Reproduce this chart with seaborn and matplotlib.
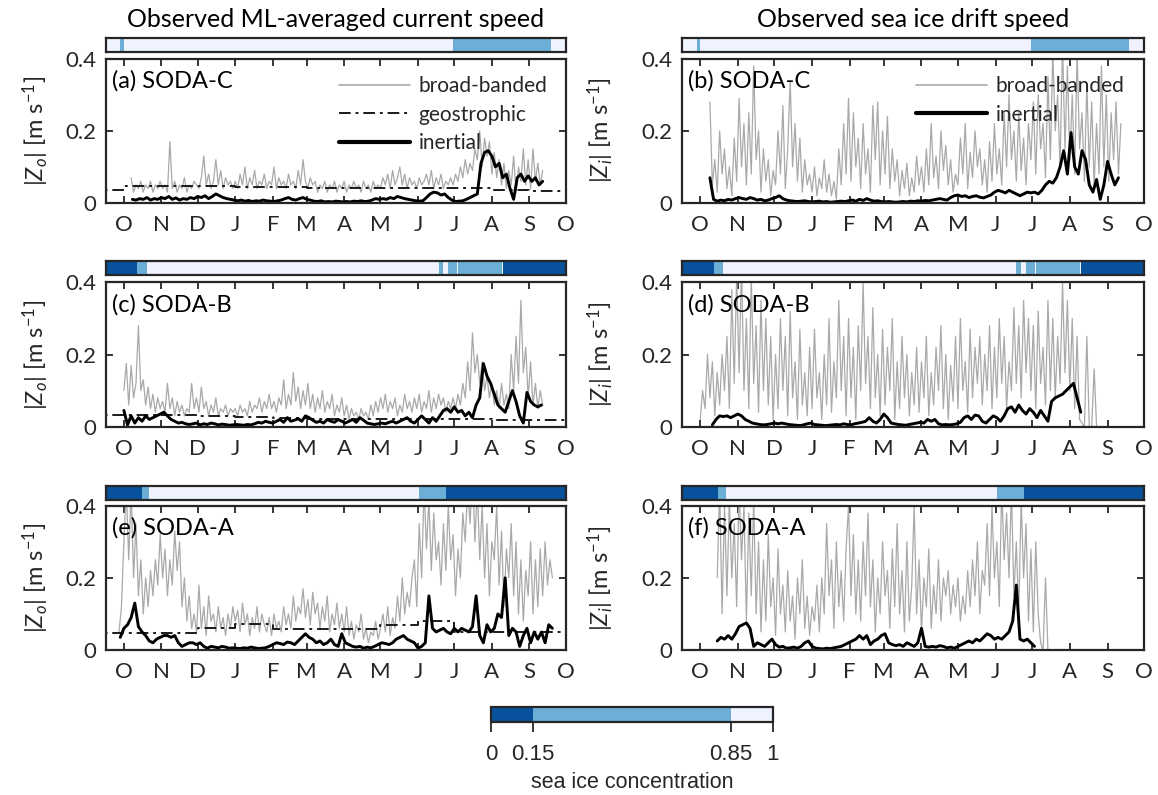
import numpy as np
import pandas as pd
import seaborn as sns
import matplotlib.pyplot as plt
import matplotlib.dates as mdates
from matplotlib.colors import ListedColormap, BoundaryNorm
from matplotlib.cm import ScalarMappable
from matplotlib.lines import Line2D

sns.set_style('ticks')
plt.rcParams['font.family'] = ['Lato', 'DejaVu Sans']
plt.rcParams['mathtext.fontset'] = 'custom'
plt.rcParams['mathtext.rm'] = 'Lato'
plt.rcParams['mathtext.it'] = 'Lato:italic'

INK = '#262626'
GREY = '#a9a9a9'
ICE_COLORS = ['#08519c', '#6baed6', '#eff3ff']   # <0.15, 0.15-0.85, >0.85
ICE_BOUNDS = [0, 0.15, 0.85, 1]

X_START = pd.Timestamp('2014-09-16')
X_END = pd.Timestamp('2015-10-01')

#### DATA ####
# broad-banded speeds sampled every 2 days, inertial every 3 days, geostrophic monthly

# SODA-C, ocean
C_OCEAN_BB_T0 = '2014-10-07'
C_OCEAN_BB = [0.07, 0.03, 0.05, 0.04, 0.06, 0.03, 0.05, 0.04, 0.06, 0.03, 0.05, 0.04, 0.06,
              0.04, 0.05, 0.03, 0.17, 0.04, 0.06, 0.03, 0.05, 0.04, 0.07, 0.03, 0.05, 0.04, 0.06, 0.05,
              0.04, 0.07, 0.13, 0.05, 0.08, 0.04, 0.06, 0.12, 0.05, 0.09, 0.04, 0.07, 0.05, 0.06, 0.04,
              0.06, 0.04, 0.08, 0.05, 0.10, 0.04, 0.07, 0.05, 0.09, 0.04, 0.06, 0.05, 0.08, 0.04, 0.06,
              0.05, 0.10, 0.04, 0.07, 0.05, 0.06, 0.04, 0.08, 0.05, 0.06, 0.04, 0.09, 0.05, 0.12, 0.06,
              0.04, 0.07, 0.05, 0.06, 0.03, 0.05, 0.04, 0.06, 0.03, 0.05, 0.04, 0.06, 0.03, 0.05, 0.04,
              0.06, 0.03, 0.05, 0.04, 0.06, 0.04, 0.05, 0.03, 0.06, 0.04, 0.05, 0.03, 0.06, 0.04, 0.05,
              0.04, 0.07, 0.05, 0.08, 0.04, 0.09, 0.05, 0.07, 0.10, 0.05, 0.08, 0.04, 0.07, 0.05, 0.06,
              0.04, 0.07, 0.05, 0.06, 0.08, 0.05, 0.09, 0.04, 0.07, 0.05, 0.08, 0.04, 0.06, 0.05, 0.07,
              0.05, 0.08, 0.06, 0.10, 0.07, 0.12, 0.08, 0.11, 0.09, 0.15, 0.12, 0.20, 0.10, 0.18, 0.13,
              0.17, 0.08, 0.14, 0.07, 0.12, 0.05, 0.11, 0.04, 0.09, 0.05, 0.13, 0.03, 0.10, 0.06, 0.15,
              0.05, 0.12, 0.04, 0.15, 0.06, 0.11, 0.05, 0.09]
C_OCEAN_IN_T0 = '2014-10-08'
C_OCEAN_IN = [0.010, 0.008, 0.012, 0.010, 0.015, 0.008, 0.012, 0.010, 0.015,
              0.012, 0.018, 0.010, 0.014, 0.008, 0.012, 0.010, 0.015, 0.012, 0.018,
              0.015, 0.020, 0.012, 0.018, 0.025, 0.020, 0.015, 0.012, 0.010, 0.008,
              0.006, 0.008, 0.005, 0.007, 0.004, 0.006, 0.005, 0.008, 0.006, 0.005,
              0.004, 0.006, 0.008, 0.012, 0.015, 0.010, 0.008, 0.012, 0.015, 0.010,
              0.008, 0.005, 0.004, 0.006, 0.003, 0.004, 0.003, 0.005, 0.004, 0.003,
              0.004, 0.003, 0.005, 0.004, 0.006, 0.004, 0.005, 0.008, 0.012, 0.010,
              0.012, 0.010, 0.015, 0.012, 0.018, 0.015, 0.012, 0.010, 0.008, 0.006,
              0.005, 0.006, 0.015, 0.025, 0.030, 0.028, 0.022, 0.025, 0.015, 0.008,
              0.004, 0.005, 0.006, 0.010, 0.015, 0.020, 0.025, 0.110, 0.140, 0.145,
              0.130, 0.100, 0.110, 0.070, 0.080, 0.040, 0.010, 0.070, 0.080, 0.060,
              0.075, 0.060, 0.070, 0.050, 0.060]
C_OCEAN_GEO = [0.037, 0.048, 0.048, 0.047, 0.045, 0.043, 0.042, 0.042, 0.042, 0.042, 0.042, 0.037, 0.033]

# SODA-C, ice
C_ICE_BB_T0 = '2014-10-09'
C_ICE_BB = [0.28, 0.05, 0.12, 0.03, 0.20, 0.08, 0.15, 0.04, 0.10, 0.02, 0.18, 0.06,
            0.29, 0.10, 0.22, 0.05, 0.25, 0.08, 0.38, 0.12, 0.20, 0.03, 0.15, 0.06, 0.12, 0.02, 0.09,
            0.05, 0.20, 0.08, 0.27, 0.04, 0.15, 0.34, 0.10, 0.22, 0.06, 0.18, 0.03, 0.12, 0.05, 0.08,
            0.03, 0.10, 0.02, 0.07, 0.04, 0.12, 0.03, 0.08, 0.02, 0.06, 0.01, 0.15, 0.05, 0.22, 0.08,
            0.29, 0.06, 0.25, 0.10, 0.18, 0.04, 0.22, 0.08, 0.15, 0.03, 0.27, 0.12, 0.28, 0.05, 0.20,
            0.08, 0.24, 0.04, 0.15, 0.06, 0.12, 0.02, 0.09, 0.04, 0.11, 0.02, 0.07, 0.03, 0.13, 0.05,
            0.10, 0.03, 0.15, 0.05, 0.22, 0.07, 0.13, 0.04, 0.20, 0.09, 0.16, 0.05, 0.12, 0.03, 0.08,
            0.05, 0.18, 0.08, 0.22, 0.04, 0.14, 0.07, 0.20, 0.10, 0.15, 0.05, 0.12, 0.03, 0.17, 0.06,
            0.22, 0.08, 0.15, 0.05, 0.25, 0.10, 0.30, 0.12, 0.20, 0.06, 0.25, 0.09, 0.18, 0.05, 0.22,
            0.12, 0.28, 0.08, 0.30, 0.15, 0.22, 0.07, 0.35, 0.12, 0.42, 0.20, 0.30, 0.10, 0.45, 0.15,
            0.38, 0.12, 0.30, 0.08, 0.42, 0.15, 0.25, 0.06, 0.33, 0.10, 0.28, 0.05, 0.22, 0.08, 0.38,
            0.10, 0.30, 0.06, 0.25, 0.12, 0.28, 0.08, 0.22]
C_ICE_IN_T0 = '2014-10-09'
C_ICE_IN = [0.070, 0.010, 0.005, 0.008, 0.006, 0.010, 0.008, 0.012,
            0.015, 0.012, 0.010, 0.015, 0.012, 0.008, 0.010, 0.006, 0.008, 0.012,
            0.015, 0.020, 0.012, 0.008, 0.006, 0.005, 0.004, 0.005, 0.006, 0.004,
            0.003, 0.004, 0.005, 0.003, 0.004, 0.002, 0.003, 0.004, 0.005, 0.004,
            0.006, 0.008, 0.005, 0.010, 0.007, 0.012, 0.008, 0.005, 0.006, 0.004,
            0.003, 0.004, 0.003, 0.002, 0.003, 0.004, 0.003, 0.005, 0.004, 0.006,
            0.005, 0.007, 0.006, 0.008, 0.010, 0.012, 0.010, 0.008, 0.015, 0.020,
            0.022, 0.018, 0.020, 0.015, 0.018, 0.020, 0.016, 0.014, 0.018, 0.022,
            0.030, 0.035, 0.032, 0.028, 0.035, 0.030, 0.025, 0.020, 0.025, 0.030,
            0.028, 0.030, 0.025, 0.035, 0.050, 0.060, 0.055, 0.070, 0.100, 0.145,
            0.080, 0.195, 0.100, 0.080, 0.145, 0.120, 0.050, 0.030, 0.065, 0.010,
            0.050, 0.115, 0.080, 0.050, 0.070]

# SODA-B, ocean
B_OCEAN_BB_T0 = '2014-10-01'
B_OCEAN_BB = [0.10, 0.175, 0.06, 0.17, 0.08, 0.12, 0.28, 0.10, 0.13, 0.06, 0.11, 0.05, 0.09, 0.04, 0.08, 0.05,
              0.07, 0.04, 0.12, 0.05, 0.08, 0.03, 0.07, 0.04, 0.06, 0.03, 0.05, 0.04, 0.12, 0.05, 0.08,
              0.04, 0.11, 0.05, 0.07, 0.03, 0.06, 0.04, 0.08, 0.03, 0.05, 0.04, 0.06, 0.03, 0.05, 0.04,
              0.05, 0.03, 0.06, 0.04, 0.05, 0.03, 0.07, 0.04, 0.06, 0.05, 0.08, 0.04, 0.07, 0.05, 0.09,
              0.05, 0.07, 0.04, 0.08, 0.06, 0.13, 0.05, 0.09, 0.06, 0.15, 0.07, 0.11, 0.05, 0.10, 0.06,
              0.12, 0.05, 0.09, 0.04, 0.08, 0.05, 0.10, 0.04, 0.07, 0.05, 0.09, 0.03, 0.06, 0.04, 0.08,
              0.03, 0.06, 0.02, 0.05, 0.03, 0.04, 0.02, 0.05, 0.03, 0.04, 0.02, 0.06, 0.03, 0.07, 0.04,
              0.08, 0.05, 0.09, 0.04, 0.07, 0.05, 0.08, 0.03, 0.06, 0.04, 0.09, 0.05, 0.07, 0.04, 0.08,
              0.05, 0.09, 0.04, 0.07, 0.05, 0.10, 0.04, 0.08, 0.05, 0.09, 0.06, 0.08, 0.04, 0.07, 0.05,
              0.08, 0.05, 0.09, 0.06, 0.12, 0.08, 0.18, 0.10, 0.26, 0.15, 0.20, 0.12, 0.18, 0.10, 0.14,
              0.08, 0.12, 0.06, 0.10, 0.05, 0.12, 0.06, 0.09, 0.05, 0.20, 0.10, 0.25, 0.12, 0.35, 0.15,
              0.22, 0.08, 0.18, 0.06, 0.12, 0.05, 0.10, 0.06]
B_OCEAN_IN_T0 = '2014-10-01'
B_OCEAN_IN = [0.045, 0.005, 0.030, 0.010, 0.025, 0.015, 0.030, 0.020, 0.025, 0.030, 0.035,
              0.040, 0.030, 0.020, 0.015, 0.010, 0.012, 0.008, 0.006, 0.008, 0.010,
              0.005, 0.008, 0.006, 0.010, 0.008, 0.005, 0.007, 0.006, 0.004, 0.005,
              0.006, 0.005, 0.004, 0.006, 0.005, 0.008, 0.012, 0.010, 0.015, 0.012,
              0.010, 0.015, 0.020, 0.012, 0.025, 0.015, 0.018, 0.022, 0.015, 0.030,
              0.025, 0.018, 0.012, 0.015, 0.010, 0.020, 0.015, 0.012, 0.020, 0.015,
              0.010, 0.015, 0.020, 0.012, 0.025, 0.018, 0.010, 0.008, 0.006, 0.008,
              0.010, 0.008, 0.012, 0.015, 0.010, 0.015, 0.020, 0.025, 0.015, 0.010,
              0.020, 0.030, 0.020, 0.010, 0.025, 0.015, 0.030, 0.045, 0.050, 0.040,
              0.055, 0.040, 0.045, 0.030, 0.040, 0.025, 0.060, 0.080, 0.175, 0.140,
              0.120, 0.090, 0.060, 0.050, 0.040, 0.070, 0.100, 0.070, 0.030, 0.010,
              0.095, 0.070, 0.060, 0.055, 0.060]
B_OCEAN_GEO = [0.031, 0.032, 0.032, 0.030, 0.026, 0.024, 0.022, 0.020, 0.020, 0.020, 0.020, 0.018, 0.018]

# SODA-B, ice
B_ICE_BB_T0 = '2014-10-01'
B_ICE_BB = [0.02, 0.10, 0.05, 0.20, 0.08, 0.18, 0.03, 0.15, 0.06, 0.20, 0.10, 0.25, 0.05, 0.38, 0.12, 0.42,
            0.15, 0.45, 0.10, 0.30, 0.05, 0.42, 0.12, 0.28, 0.04, 0.35, 0.10, 0.30, 0.06, 0.25, 0.02,
            0.20, 0.05, 0.30, 0.10, 0.25, 0.03, 0.32, 0.08, 0.18, 0.02, 0.27, 0.06, 0.15, 0.03, 0.22,
            0.05, 0.27, 0.08, 0.15, 0.02, 0.20, 0.06, 0.30, 0.04, 0.18, 0.08, 0.35, 0.10, 0.25, 0.03,
            0.30, 0.08, 0.22, 0.02, 0.28, 0.10, 0.40, 0.12, 0.25, 0.05, 0.33, 0.08, 0.20, 0.03, 0.27,
            0.06, 0.22, 0.10, 0.30, 0.02, 0.18, 0.05, 0.25, 0.08, 0.20, 0.03, 0.15, 0.06, 0.22, 0.04,
            0.18, 0.08, 0.25, 0.03, 0.15, 0.06, 0.22, 0.10, 0.28, 0.05, 0.20, 0.02, 0.17, 0.07, 0.25,
            0.05, 0.30, 0.10, 0.18, 0.04, 0.27, 0.08, 0.22, 0.12, 0.25, 0.06, 0.20, 0.10, 0.28, 0.05,
            0.22, 0.08, 0.30, 0.12, 0.25, 0.05, 0.18, 0.10, 0.33, 0.12, 0.28, 0.08, 0.35, 0.15, 0.30,
            0.10, 0.28, 0.05, 0.32, 0.12, 0.22, 0.06, 0.35, 0.10, 0.30, 0.08, 0.25, 0.12, 0.40, 0.15,
            0.35, 0.10, 0.30, 0.05, 0.25, 0.02, 0.01, 0.00, 0.25, 0.00, 0.00, 0.16, 0.00]
B_ICE_IN_T0 = '2014-10-11'
B_ICE_IN = [0.005, 0.020, 0.030, 0.028, 0.030, 0.025, 0.030, 0.035,
            0.030, 0.020, 0.015, 0.010, 0.008, 0.006, 0.005, 0.006, 0.008, 0.010,
            0.008, 0.010, 0.008, 0.006, 0.005, 0.004, 0.003, 0.005, 0.008, 0.010,
            0.006, 0.005, 0.004, 0.003, 0.004, 0.005, 0.006, 0.005, 0.008, 0.006,
            0.005, 0.008, 0.010, 0.012, 0.015, 0.025, 0.015, 0.010, 0.020, 0.035,
            0.025, 0.010, 0.008, 0.006, 0.005, 0.004, 0.006, 0.008, 0.010, 0.012,
            0.010, 0.020, 0.015, 0.020, 0.008, 0.005, 0.006, 0.005, 0.006, 0.008,
            0.012, 0.025, 0.030, 0.020, 0.032, 0.030, 0.015, 0.010, 0.020, 0.030,
            0.025, 0.015, 0.030, 0.050, 0.055, 0.040, 0.060, 0.045, 0.035, 0.050,
            0.040, 0.025, 0.045, 0.030, 0.015, 0.070, 0.080, 0.085, 0.090, 0.100,
            0.110, 0.120, 0.080, 0.040]

# SODA-A, ocean
A_OCEAN_BB_T0 = '2014-09-27'
A_OCEAN_BB = [0.05, 0.12, 0.30, 0.45, 0.25, 0.45, 0.20, 0.35, 0.15, 0.25, 0.10, 0.20, 0.12, 0.22, 0.15, 0.25,
              0.18, 0.32, 0.20, 0.28, 0.15, 0.25, 0.18, 0.33, 0.22, 0.30, 0.12, 0.20, 0.08, 0.15, 0.06,
              0.10, 0.05, 0.18, 0.06, 0.12, 0.04, 0.15, 0.08, 0.10, 0.05, 0.12, 0.06, 0.09, 0.04, 0.10,
              0.06, 0.12, 0.08, 0.11, 0.05, 0.13, 0.07, 0.10, 0.04, 0.09, 0.06, 0.12, 0.05, 0.10, 0.07,
              0.05, 0.09, 0.04, 0.10, 0.06, 0.08, 0.05, 0.12, 0.07, 0.10, 0.06, 0.15, 0.08, 0.12, 0.10,
              0.17, 0.09, 0.14, 0.07, 0.16, 0.10, 0.13, 0.06, 0.12, 0.08, 0.15, 0.05, 0.10, 0.07, 0.13,
              0.06, 0.10, 0.05, 0.12, 0.04, 0.08, 0.03, 0.07, 0.05, 0.10, 0.03, 0.06, 0.02, 0.05, 0.04,
              0.08, 0.03, 0.06, 0.10, 0.05, 0.12, 0.04, 0.09, 0.06, 0.15, 0.08, 0.20, 0.10, 0.16, 0.12,
              0.20, 0.25, 0.12, 0.35, 0.20, 0.45, 0.28, 0.42, 0.22, 0.38, 0.25, 0.30, 0.18, 0.35, 0.22,
              0.40, 0.25, 0.32, 0.15, 0.28, 0.20, 0.38, 0.30, 0.45, 0.35, 0.50, 0.30, 0.45, 0.25, 0.40,
              0.20, 0.35, 0.15, 0.30, 0.25, 0.40, 0.18, 0.33, 0.12, 0.28, 0.20, 0.35, 0.15, 0.30, 0.10,
              0.25, 0.08, 0.22, 0.15, 0.30, 0.10, 0.25, 0.12, 0.28, 0.15, 0.30, 0.18, 0.25, 0.20]
A_OCEAN_IN_T0 = '2014-09-28'
A_OCEAN_IN = [0.035, 0.060, 0.070, 0.090, 0.130, 0.065, 0.050, 0.040, 0.025, 0.020, 0.030,
              0.035, 0.040, 0.040, 0.035, 0.040, 0.020, 0.010, 0.015, 0.020, 0.020,
              0.015, 0.020, 0.010, 0.005, 0.010, 0.008, 0.006, 0.010, 0.008, 0.005,
              0.006, 0.005, 0.004, 0.006, 0.005, 0.008, 0.006, 0.004, 0.005, 0.006,
              0.010, 0.015, 0.020, 0.018, 0.015, 0.022, 0.020, 0.015, 0.025, 0.035,
              0.045, 0.035, 0.030, 0.020, 0.025, 0.015, 0.020, 0.030, 0.015, 0.010,
              0.045, 0.020, 0.015, 0.010, 0.008, 0.010, 0.005, 0.008, 0.006, 0.010,
              0.015, 0.020, 0.018, 0.015, 0.020, 0.030, 0.035, 0.040, 0.030, 0.025,
              0.020, 0.005, 0.010, 0.020, 0.150, 0.060, 0.050, 0.055, 0.060, 0.050,
              0.045, 0.060, 0.050, 0.060, 0.055, 0.050, 0.065, 0.150, 0.040, 0.020,
              0.070, 0.050, 0.060, 0.100, 0.090, 0.200, 0.040, 0.060, 0.050, 0.010,
              0.040, 0.060, 0.020, 0.050, 0.030, 0.050, 0.020, 0.070, 0.060]
A_OCEAN_GEO = [0.048, 0.048, 0.047, 0.061, 0.072, 0.057, 0.057, 0.057, 0.068, 0.081, 0.050, 0.050, 0.050]

# SODA-A, ice
A_ICE_BB_T0 = '2014-10-15'
A_ICE_BB = [0.20, 0.45, 0.10, 0.40, 0.15, 0.42, 0.20, 0.35, 0.12, 0.45, 0.25, 0.40, 0.08, 0.38,
            0.15, 0.42, 0.10, 0.30, 0.05, 0.25, 0.08, 0.32, 0.12, 0.20, 0.04, 0.28, 0.10, 0.18, 0.05,
            0.22, 0.08, 0.15, 0.03, 0.20, 0.10, 0.25, 0.06, 0.15, 0.04, 0.12, 0.08, 0.18, 0.05, 0.20,
            0.10, 0.35, 0.15, 0.25, 0.06, 0.30, 0.12, 0.22, 0.08, 0.28, 0.40, 0.15, 0.32, 0.10, 0.25,
            0.08, 0.30, 0.15, 0.38, 0.12, 0.25, 0.05, 0.20, 0.10, 0.30, 0.15, 0.22, 0.06, 0.28, 0.12,
            0.35, 0.10, 0.22, 0.05, 0.30, 0.08, 0.18, 0.40, 0.10, 0.25, 0.05, 0.20, 0.12, 0.28, 0.06,
            0.18, 0.10, 0.25, 0.08, 0.20, 0.15, 0.22, 0.10, 0.18, 0.12, 0.20, 0.08, 0.15, 0.10, 0.22,
            0.12, 0.25, 0.15, 0.30, 0.10, 0.22, 0.18, 0.35, 0.15, 0.40, 0.20, 0.30, 0.12, 0.45, 0.25,
            0.38, 0.20, 0.45, 0.15, 0.30, 0.10, 0.42, 0.20, 0.35, 0.08, 0.28, 0.05, 0.30, 0.10, 0.02,
            0.00, 0.20, 0.00]
A_ICE_IN_T0 = '2014-10-15'
A_ICE_IN = [0.025, 0.035, 0.030, 0.040, 0.030, 0.045, 0.065, 0.070, 0.075, 0.060,
            0.010, 0.020, 0.015, 0.010, 0.020, 0.030, 0.015, 0.008, 0.010, 0.005,
            0.006, 0.008, 0.005, 0.010, 0.020, 0.025, 0.010, 0.005, 0.004, 0.003,
            0.005, 0.004, 0.006, 0.008, 0.010, 0.015, 0.020, 0.025, 0.030, 0.040,
            0.030, 0.040, 0.015, 0.025, 0.030, 0.040, 0.045, 0.020, 0.015, 0.012,
            0.015, 0.010, 0.020, 0.015, 0.010, 0.020, 0.060, 0.010, 0.008, 0.010,
            0.008, 0.012, 0.010, 0.006, 0.008, 0.005, 0.010, 0.015, 0.020, 0.025,
            0.020, 0.030, 0.025, 0.035, 0.045, 0.040, 0.030, 0.035, 0.030, 0.040,
            0.050, 0.080, 0.180, 0.030, 0.025, 0.030, 0.020, 0.010]

# sea ice concentration class (0: <0.15, 1: 0.15-0.85, 2: >0.85), from change dates
ICE_C_DATES = ['2014-09-16', '2014-09-28', '2014-10-01', '2015-06-30', '2015-09-19']
ICE_C_CLASS = [2, 1, 2, 1, 2]
ICE_B_DATES = ['2014-09-16', '2014-10-12', '2014-10-20', '2015-06-18', '2015-06-22',
               '2015-06-26', '2015-07-03', '2015-07-04', '2015-08-09', '2015-08-10']
ICE_B_CLASS = [0, 1, 2, 1, 2, 1, 2, 1, 2, 0]
ICE_A_DATES = ['2014-09-16', '2014-10-16', '2014-10-22', '2015-06-02', '2015-06-24']
ICE_A_CLASS = [0, 1, 2, 1, 0]


def draw_ice_bar(ax, dates, classes):
    edges = mdates.date2num(pd.to_datetime(dates + [X_END]))
    segs = [(edges[k], edges[k + 1] - edges[k]) for k in range(len(classes))]
    ax.broken_barh(segs, (0, 1), facecolors=[ICE_COLORS[c] for c in classes], edgecolor='none')
    ax.set_xlim(X_START, X_END)
    ax.set_ylim(0, 1)
    ax.set_xticks([])
    ax.set_yticks([])
    for s in ax.spines.values():
        s.set_linewidth(1.6)
        s.set_color(INK)


def draw_speed(ax, bb, bb_t0, inert, in_t0, geo=None):
    t_bb = pd.date_range(bb_t0, periods=len(bb), freq='2D')
    sns.lineplot(x=t_bb, y=bb, ax=ax, color=GREY, lw=0.9, errorbar=None)
    if geo is not None:
        t_geo = pd.date_range('2014-09-01', periods=len(geo), freq='MS').append(pd.DatetimeIndex([X_END]))
        sns.lineplot(x=t_geo, y=geo + [geo[-1]], ax=ax, color='#1a1a1a', lw=1.4,
                     linestyle=(0, (6, 2.5, 1.5, 2.5)), drawstyle='steps-post', errorbar=None)
    t_in = pd.date_range(in_t0, periods=len(inert), freq='3D')
    sns.lineplot(x=t_in, y=inert, ax=ax, color='black', lw=2.1, errorbar=None)

    ax.set(xlabel='', xlim=(X_START, X_END), ylim=(0, 0.4))
    ax.set_yticks([0, 0.2, 0.4], ['0', '0.2', '0.4'])
    ax.xaxis.set_major_locator(mdates.MonthLocator())
    ax.xaxis.set_major_formatter(plt.FuncFormatter(lambda x, pos: mdates.num2date(x).strftime('%b')[0]))
    ax.tick_params(direction='in', top=True, right=True, length=5, width=1.3, color=INK,
                   labelsize=16, labelcolor=INK)
    ax.tick_params(axis='x', pad=9)
    ax.tick_params(axis='y', pad=7)
    for s in ax.spines.values():
        s.set_linewidth(1.6)
        s.set_color(INK)


fig = plt.figure(figsize=(11.58, 7.95), dpi=100)

col_x = [0.0913, 0.5889]
col_w = [0.3972, 0.399]
row_ax_y = [0.7447, 0.4633, 0.1824]
row_bar_y = [0.935, 0.6541, 0.3711]

rows = [
    ('SODA-C', ICE_C_DATES, ICE_C_CLASS,
     (C_OCEAN_BB, C_OCEAN_BB_T0, C_OCEAN_IN, C_OCEAN_IN_T0, C_OCEAN_GEO),
     (C_ICE_BB, C_ICE_BB_T0, C_ICE_IN, C_ICE_IN_T0, None)),
    ('SODA-B', ICE_B_DATES, ICE_B_CLASS,
     (B_OCEAN_BB, B_OCEAN_BB_T0, B_OCEAN_IN, B_OCEAN_IN_T0, B_OCEAN_GEO),
     (B_ICE_BB, B_ICE_BB_T0, B_ICE_IN, B_ICE_IN_T0, None)),
    ('SODA-A', ICE_A_DATES, ICE_A_CLASS,
     (A_OCEAN_BB, A_OCEAN_BB_T0, A_OCEAN_IN, A_OCEAN_IN_T0, A_OCEAN_GEO),
     (A_ICE_BB, A_ICE_BB_T0, A_ICE_IN, A_ICE_IN_T0, None)),
]
letters = 'abcdef'
ylabels = [r'$|Z_o|$ [m s$^{-1}$]', r'$|Z_i|$ [m s$^{-1}$]']
ylab_x = [-0.118, -0.142]

for r, (site, ice_dates, ice_cls, ocean, ice) in enumerate(rows):
    for c, series in enumerate([ocean, ice]):
        bar = fig.add_axes([col_x[c], row_bar_y[r], col_w[c], 0.017])
        draw_ice_bar(bar, ice_dates, ice_cls)

        ax = fig.add_axes([col_x[c], row_ax_y[r], col_w[c], 0.1815])
        draw_speed(ax, *series)
        ax.set_ylabel(ylabels[c], fontsize=17, color=INK)
        ax.yaxis.set_label_coords(ylab_x[c], 0.5)
        ax.text(0.013, 0.797, f'({letters[2 * r + c]}) {site}', transform=ax.transAxes,
                fontsize=17, color='black', va='baseline', ha='left')

        if r == 0:
            handles = [Line2D([], [], color=GREY, lw=1.2, label='broad-banded')]
            if c == 0:
                handles.append(Line2D([], [], color='#1a1a1a', lw=1.4,
                                      linestyle=(0, (6, 2.5, 1.5, 2.5)), label='geostrophic'))
            handles.append(Line2D([], [], color='black', lw=3, label='inertial'))
            ax.legend(handles=handles, loc='upper left', bbox_to_anchor=(0.507, 0.88),
                      frameon=False, fontsize=15, borderpad=0, borderaxespad=0,
                      handlelength=3.4, handletextpad=0.42, labelspacing=0.42,
                      labelcolor=INK)

fig.text(0.2899, 0.9664, 'Observed ML-averaged current speed', ha='center', va='baseline',
         fontsize=18, color='black')
fig.text(0.7884, 0.9664, 'Observed sea ice drift speed', ha='center', va='baseline',
         fontsize=18, color='black')

# colour key for the ice bars
cax = fig.add_axes([0.424, 0.0922, 0.2435, 0.0189])
sm = ScalarMappable(norm=BoundaryNorm(ICE_BOUNDS, 3), cmap=ListedColormap(ICE_COLORS))
cb = fig.colorbar(sm, cax=cax, orientation='horizontal', ticks=ICE_BOUNDS, spacing='proportional')
cb.ax.set_xticklabels(['0', '0.15', '0.85', '1'], family=['Liberation Sans'], fontsize=16, color=INK)
cb.ax.tick_params(direction='out', length=7, width=1.3, color=INK, pad=9)
cb.outline.set_linewidth(1.6)
cb.outline.set_edgecolor(INK)
cb.set_label('sea ice concentration', family=['Liberation Sans'], fontsize=15.5, color=INK, labelpad=5)

fig.savefig('out.png', dpi=100)
